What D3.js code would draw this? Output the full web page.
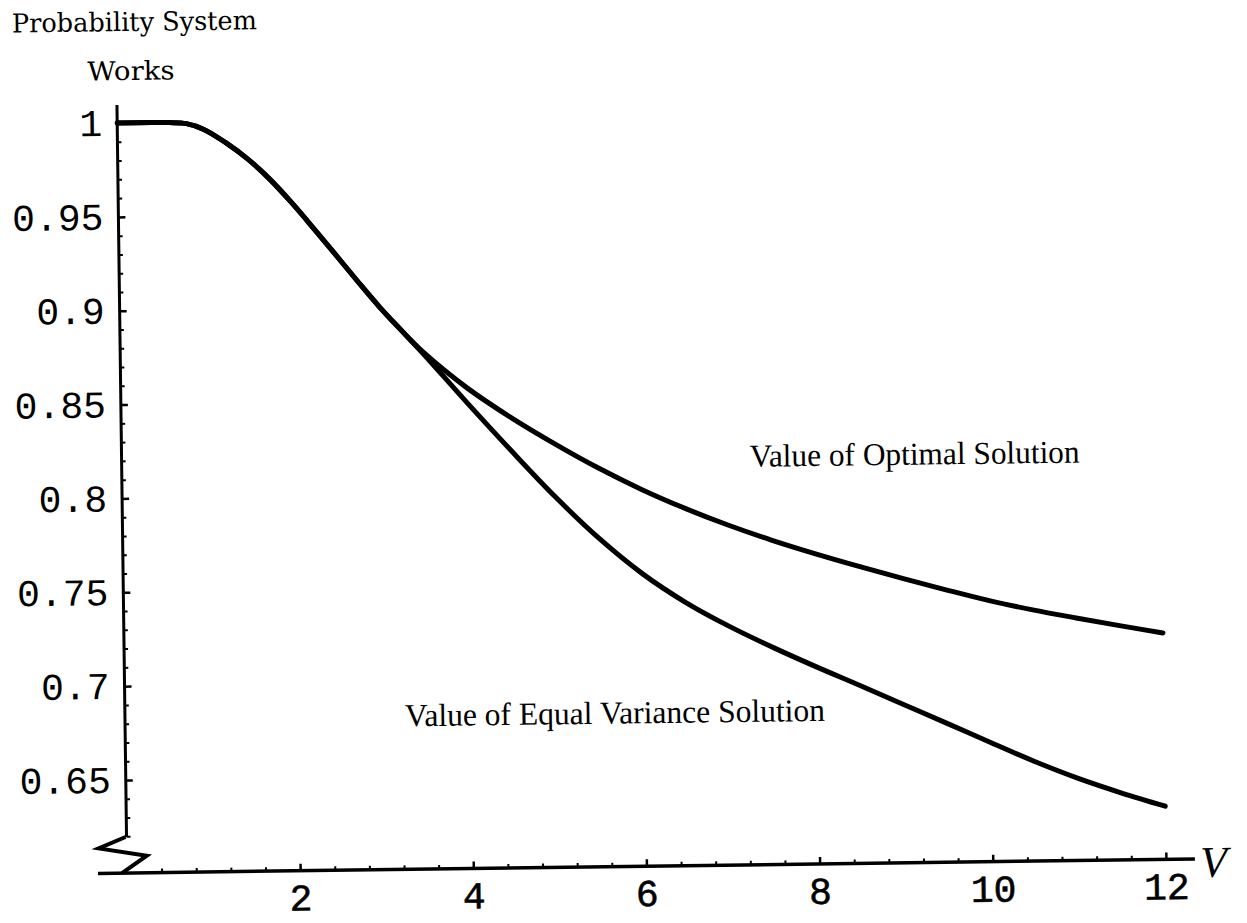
<!DOCTYPE html>
<html>
<head>
<meta charset="utf-8">
<script src="https://cdn.jsdelivr.net/npm/d3@7"></script>
<style>
  body { margin: 0; background: #fff; }
  svg { display: block; }
  .tick line { stroke: #000; }
  .tick text { font-family: "Liberation Mono", "DejaVu Sans Mono", monospace; fill: #000; }
  .serif { font-family: "Liberation Serif", "DejaVu Serif", serif; fill: #000; }
</style>
</head>
<body>
<svg id="chart" width="1247" height="923"></svg>
<script>
// values
const vValues = [0, 0.4, 0.6, 0.8, 1, 1.25, 1.5, 1.75, 2, 2.25, 2.5, 2.75, 3, 3.25, 3.5,
    4, 4.5, 5, 5.5, 6, 6.5, 7, 7.5, 8, 8.5, 9, 9.5, 10, 10.5, 11, 11.5, 12];
const optimalValues = [1, 1, 0.9999, 0.9992, 0.996, 0.9888, 0.980, 0.9692, 0.9565, 0.9427, 0.9285, 0.9142, 0.9003, 0.8876, 0.8758,
    0.8565, 0.8405, 0.8262, 0.813, 0.8012, 0.7908, 0.7815, 0.7732, 0.7657, 0.7587, 0.752, 0.7456, 0.7395, 0.7343, 0.7297, 0.7253, 0.7211];
const equalVarianceValues = [1, 1, 0.9999, 0.9992, 0.996, 0.9888, 0.980, 0.9692, 0.9565, 0.9427, 0.9285, 0.9142, 0.9003, 0.8876, 0.875,
    0.8485, 0.8228, 0.798, 0.7755, 0.7562, 0.7405, 0.7275, 0.716, 0.7053, 0.6951, 0.6847, 0.6743, 0.6638, 0.6535, 0.6442, 0.6361, 0.6288];

const yTickValues = [0.65, 0.7, 0.75, 0.8, 0.85, 0.9, 0.95, 1];
const yTickLabels = ["0.65", "0.7", "0.75", "0.8", "0.85", "0.9", "0.95", "1"];
const xTickValues = [2, 4, 6, 8, 10, 12];
const xTickLabels = ["2", "4", "6", "8", "10", "12"];

const width = 1247;
const height = 923;
const tilt = -0.75; // the scan is slightly rotated

const x = d3.scaleLinear().domain([0, 12]).range([127, 1166]);
const y = d3.scaleLinear().domain([0.65, 1]).range([780, 123]);
const x0 = x(0);
const yBase = 873;

const svg = d3.select("#chart");
svg.append("rect").attr("width", width).attr("height", height).attr("fill", "#fff");

const g = svg.append("g").attr("transform", "rotate(" + tilt + ", " + x0 + ", " + yBase + ")");

// y axis
const yMinor = d3.range(62, 100).map(d => d / 100).filter(d => Math.round(d * 100) % 5 !== 0);

g.append("g")
    .attr("transform", "translate(" + x0 + ",0)")
    .call(d3.axisLeft(y).tickValues(yMinor).tickSize(-4).tickFormat(""))
    .call(a => a.select(".domain").remove())
    .selectAll("line").attr("stroke-width", 2);

g.append("g")
    .attr("transform", "translate(" + x0 + ",0)")
    .call(d3.axisLeft(y).tickValues(yTickValues).tickSize(-7).tickPadding(15)
        .tickFormat((d, i) => yTickLabels[i]))
    .call(a => a.select(".domain").remove())
    .call(a => a.selectAll("line").attr("stroke-width", 2.5))
    .call(a => a.selectAll("text").attr("font-size", 38));

g.append("line")
    .attr("x1", x0).attr("x2", x0)
    .attr("y1", y(1) - 18).attr("y2", yBase - 36)
    .attr("stroke", "#000").attr("stroke-width", 3);

// axis break
const breakPts = [[-1, -36], [-28, -25], [20, -17], [-5, 0]];
g.append("path")
    .attr("d", d3.line()(breakPts.map(p => [x0 + p[0], yBase + p[1]])))
    .attr("fill", "none").attr("stroke", "#000").attr("stroke-width", 4)
    .attr("stroke-linejoin", "miter");

// x axis
const xMinor = d3.range(1, 31).filter(i => i % 5 !== 0).map(i => i * 0.4);

g.append("g")
    .attr("transform", "translate(0," + yBase + ")")
    .call(d3.axisBottom(x).tickValues(xMinor).tickSize(-4).tickFormat(""))
    .call(a => a.select(".domain").remove())
    .selectAll("line").attr("stroke-width", 2);

g.append("g")
    .attr("transform", "translate(0," + yBase + ")")
    .call(d3.axisBottom(x).tickValues(xTickValues).tickSize(-7).tickPadding(13)
        .tickFormat((d, i) => xTickLabels[i]))
    .call(a => a.select(".domain").remove())
    .call(a => a.selectAll("line").attr("stroke-width", 2.5))
    .call(a => a.selectAll("text").attr("font-size", 38)
        .attr("stroke", "#000").attr("stroke-width", 0.6));

g.append("line")
    .attr("x1", x0 - 29).attr("x2", x(12) + 29)
    .attr("y1", yBase).attr("y2", yBase)
    .attr("stroke", "#000").attr("stroke-width", 3.5);

g.append("text")
    .attr("class", "serif")
    .attr("x", x(12) + 34).attr("y", yBase + 18)
    .attr("font-size", 44).attr("font-style", "italic")
    .text("V");

// curves
const line = d3.line()
    .x(d => x(d[0]))
    .y(d => y(d[1]))
    .curve(d3.curveCatmullRom.alpha(0.5));

[optimalValues, equalVarianceValues].forEach(series => {
    g.append("path")
        .datum(vValues.map((v, i) => [v, series[i]]))
        .attr("d", line)
        .attr("fill", "none")
        .attr("stroke", "#000")
        .attr("stroke-width", 5)
        .attr("stroke-linecap", "round")
        .attr("stroke-linejoin", "round");
});

// labels
g.append("text").attr("class", "serif")
    .attr("x", 23).attr("y", 31)
    .attr("font-size", 26)
    .style("font-family", "'DejaVu Serif', serif")
    .attr("textLength", 245).attr("lengthAdjust", "spacingAndGlyphs")
    .text("Probability System");

g.append("text").attr("class", "serif")
    .attr("x", 98).attr("y", 80)
    .attr("font-size", 26)
    .style("font-family", "'DejaVu Serif', serif")
    .attr("textLength", 87).attr("lengthAdjust", "spacingAndGlyphs")
    .text("Works");

g.append("text").attr("class", "serif")
    .attr("x", 755).attr("y", 475)
    .attr("font-size", 32)
    .attr("textLength", 330).attr("lengthAdjust", "spacingAndGlyphs")
    .text("Value of Optimal Solution");

g.append("text").attr("class", "serif")
    .attr("x", 407).attr("y", 730)
    .attr("font-size", 32)
    .attr("textLength", 420).attr("lengthAdjust", "spacingAndGlyphs")
    .text("Value of Equal Variance Solution");
</script>
</body>
</html>
